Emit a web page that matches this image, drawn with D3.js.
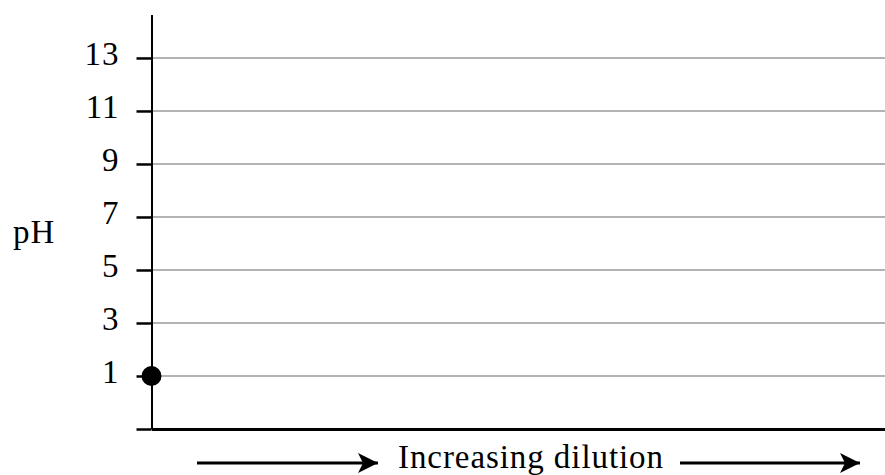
<!DOCTYPE html>
<html>
<head>
<meta charset="utf-8">
<script src="https://cdn.jsdelivr.net/npm/d3@7"></script>
<style>
  body { margin: 0; background: #fff; }
  svg text { font-family: "Liberation Serif", "Times New Roman", serif; }
</style>
</head>
<body>
<svg class="chart"></svg>
<script>
var width = 885, height = 475;

// data
var yTicks = [1, 3, 5, 7, 9, 11, 13];
var points = [{dilution: 0, ph: 1}];
var yLabel = "pH";
var xLabel = "Increasing dilution";

var chart = d3.select(".chart")
    .attr("width", width)
    .attr("height", height);

var x = d3.scaleLinear()
    .domain([0, 1])
    .range([151.5, 885]);

var y = d3.scaleLinear()
    .domain([-1, 14.64])
    .range([429, 14.5]);

// gridlines
chart.append("g")
    .selectAll("line")
    .data(yTicks)
    .enter().append("line")
    .attr("x1", x(0))
    .attr("x2", x(1))
    .attr("y1", function(d) { return y(d); })
    .attr("y2", function(d) { return y(d); })
    .attr("stroke", "#9a9a9a")
    .attr("stroke-width", 1.5);

// x axis (no ticks, just the line)
var xAxis = chart.append("g")
    .attr("transform", "translate(0," + y(-1) + ")")
    .call(d3.axisBottom(x).tickValues([]).tickSizeOuter(0));
xAxis.select(".domain").attr("stroke", "#000").attr("stroke-width", 3);

// y axis, the -1 tick just continues the x axis to the left
var yAxis = chart.append("g")
    .attr("transform", "translate(" + x(0) + ",0)")
    .call(d3.axisLeft(y)
        .tickValues([-1].concat(yTicks))
        .tickFormat(function(d) { return d < 0 ? "" : d; })
        .tickSize(15)
        .tickPadding(17)
        .tickSizeOuter(0));
yAxis.select(".domain").attr("stroke", "#000").attr("stroke-width", 2);
yAxis.selectAll(".tick line").attr("stroke", "#000").attr("stroke-width", 2.5);
yAxis.selectAll(".tick text")
    .attr("font-family", "Liberation Serif, serif")
    .attr("font-size", 33)
    .attr("letter-spacing", 1)
    .attr("dy", "0.2em")
    .attr("fill", "#000");

// point
chart.append("g")
    .selectAll("circle")
    .data(points)
    .enter().append("circle")
    .attr("cx", function(d) { return x(d.dilution); })
    .attr("cy", function(d) { return y(d.ph); })
    .attr("r", 10)
    .attr("fill", "#000");

// y label
chart.append("text")
    .attr("x", 13)
    .attr("y", 243)
    .attr("font-size", 33)
    .attr("letter-spacing", 1)
    .text(yLabel);

// arrow head marker
chart.append("defs").append("marker")
    .attr("id", "head")
    .attr("viewBox", "0 0 10 10")
    .attr("refX", 10)
    .attr("refY", 5)
    .attr("markerUnits", "userSpaceOnUse")
    .attr("markerWidth", 24)
    .attr("markerHeight", 20)
    .attr("orient", "auto")
    .append("path")
    .attr("d", "M0,0 L10,5 L0,10 L2.5,5 Z")
    .attr("fill", "#000");

// x label with arrows on both sides
var labelY = 468, arrowY = 463;
chart.append("text")
    .attr("x", 398)
    .attr("y", labelY)
    .attr("font-size", 33)
    .attr("textLength", 265)
    .attr("lengthAdjust", "spacing")
    .text(xLabel);

var arrows = [[197, 378], [680, 860]];
chart.append("g")
    .selectAll("line")
    .data(arrows)
    .enter().append("line")
    .attr("x1", function(d) { return d[0]; })
    .attr("x2", function(d) { return d[1]; })
    .attr("y1", arrowY)
    .attr("y2", arrowY)
    .attr("stroke", "#000")
    .attr("stroke-width", 3)
    .attr("marker-end", "url(#head)");
</script>
</body>
</html>
